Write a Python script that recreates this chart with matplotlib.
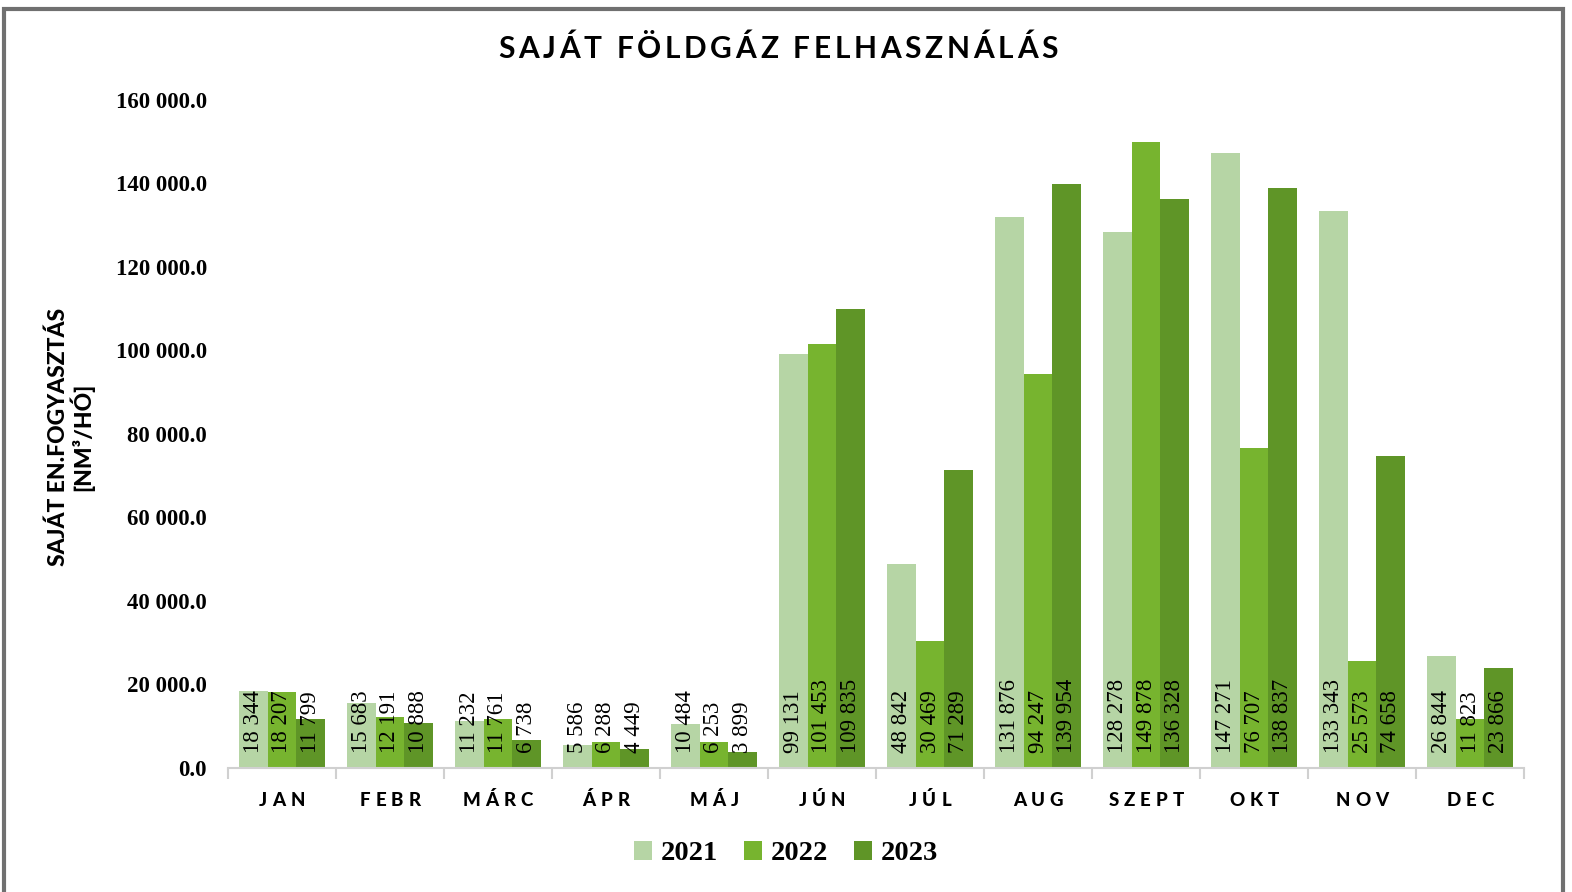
import numpy as np
import matplotlib.pyplot as plt
from matplotlib.patches import Rectangle
from matplotlib.ticker import FuncFormatter
from matplotlib.font_manager import FontProperties
from matplotlib.transforms import IdentityTransform

# data
months = ["JAN", "FEBR", "MÁRC", "ÁPR", "MÁJ", "JÚN", "JÚL", "AUG", "SZEPT", "OKT", "NOV", "DEC"]
years = ["2021", "2022", "2023"]
v2021 = [18344, 15683, 11232, 5586, 10484, 99131, 48842, 131876, 128278, 147271, 133343, 26844]
v2022 = [18207, 12191, 11761, 6288, 6253, 101453, 30469, 94247, 149878, 76707, 25573, 11823]
v2023 = [11799, 10888, 6738, 4449, 3899, 109835, 71289, 139954, 136328, 138837, 74658, 23866]
colors = ["#B6D5A5", "#77B42F", "#5F9527"]
title_text = "SAJÁT FÖLDGÁZ FELHASZNÁLÁS"


def thousands(v, _=None):
    return f"{v:,.1f}".replace(",", " ")


def char_widths(renderer, text, fp):
    base = renderer.get_text_width_height_descent("xx", fp, ismath=False)[0]
    out = []
    for ch in text:
        w = renderer.get_text_width_height_descent("x" + ch + "x", fp, ismath=False)[0] - base
        out.append(w)
    return out


def tracked_text(fig, renderer, xc, y, text, fp, tracking=None, width=None, va="center"):
    # letter-spaced text centred on (xc, y) in display pixels
    ws = char_widths(renderer, text, fp)
    if tracking is None:
        tracking = (width - sum(ws)) / (len(text) - 1)
    total = sum(ws) + tracking * (len(text) - 1)
    x0 = xc - total / 2
    for ch, w in zip(text, ws):
        fig.text(x0, y, ch, transform=IdentityTransform(), fontproperties=fp,
                 ha="left", va=va)
        x0 += w + tracking


fig = plt.figure(figsize=(15.72, 8.92), dpi=100)
ax = fig.add_axes([0.145, 0.139, 0.8245, 0.749])

x = np.arange(len(months))
w = 0.265
for i, (vals, c) in enumerate(zip([v2021, v2022, v2023], colors)):
    xs = x + (i - 1) * w
    ax.bar(xs, vals, width=w, color=c, label=years[i], zorder=2)
    for xi, v in zip(xs, vals):
        ax.annotate(f"{v:,}".replace(",", " "), (xi, 0), xytext=(0, 11),
                    textcoords="offset points", rotation=90, ha="center", va="bottom",
                    fontsize=16.5, family="Liberation Serif", zorder=3)

ax.set_xlim(-0.5, len(months) - 0.5)
ax.set_ylim(0, 160000)
ax.set_yticks(np.arange(0, 160001, 20000))
ax.yaxis.set_major_formatter(FuncFormatter(thousands))
for lab in ax.get_yticklabels():
    lab.set_family("Liberation Serif")
    lab.set_fontweight("bold")
    lab.set_fontsize(16.5)
ax.tick_params(axis="y", length=0, pad=15)

ax.set_xticks(x)
ax.set_xticklabels([])
ax.set_xticks(np.arange(-0.5, len(months)), minor=True)
ax.tick_params(axis="x", which="major", length=0)
ax.tick_params(axis="x", which="minor", length=8, color="#d0d0d0", width=1.5)

for s in ["top", "right", "left"]:
    ax.spines[s].set_visible(False)
ax.spines["bottom"].set_color("#d0d0d0")
ax.spines["bottom"].set_linewidth(1.5)

renderer = fig.canvas.get_renderer()
H = fig.bbox.height

# month labels, letter-spaced
fp_tick = FontProperties(family="Lato", weight=900, size=13.5)
for xi, m in zip(x, months):
    px, py = ax.transData.transform((xi, 0))
    tracked_text(fig, renderer, px, H - 800, m, fp_tick, tracking=5)

# title, letter-spaced to the reference width
fp_title = FontProperties(family="Lato", weight="bold", size=21.5)
tracked_text(fig, renderer, 778, H - 49, title_text, fp_title, width=560)

fig.text(0.045, 0.51, "SAJÁT EN.FOGYASZTÁS\n[NM³/HÓ]", rotation=90, ha="center", va="center",
         fontsize=16.5, fontweight=900, family="Lato", linespacing=1.0)

leg = fig.legend(loc="center", bbox_to_anchor=(0.5, 0.043), ncol=3, frameon=False,
                 prop={"family": "Liberation Serif", "weight": "bold", "size": 20.5},
                 handlelength=0.65, handleheight=0.65, handletextpad=0.3, columnspacing=0.9)

# outer frame
fig.patches.append(Rectangle((4 / 1572, -0.05), 1559 / 1572, 1 - 9 / 892 + 0.05,
                             transform=fig.transFigure, fill=False, edgecolor="#707070", lw=3))

fig.savefig("out.png", dpi=100)
